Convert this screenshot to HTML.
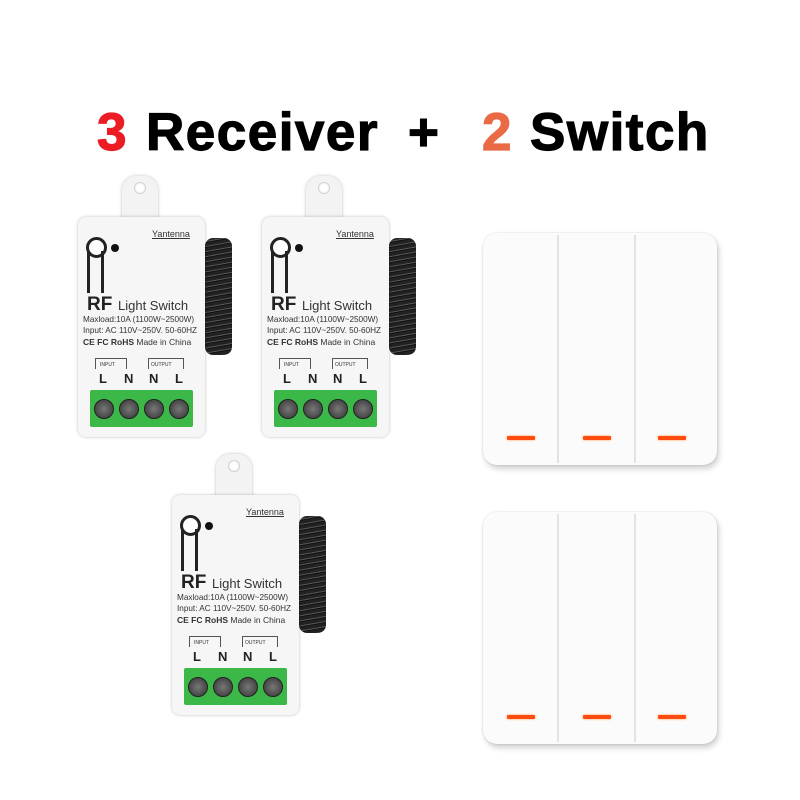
<!DOCTYPE html>
<html><head><meta charset="utf-8"><style>
body{margin:0;width:800px;height:800px;background:#fff;position:relative;overflow:hidden;font-family:"Liberation Sans",sans-serif}
.t{position:absolute;top:103px;font-weight:bold;font-size:53px;line-height:60px;white-space:nowrap;-webkit-text-stroke:1.2px currentColor;letter-spacing:1.5px}
.r{position:absolute;width:127px;height:220px}
.r>div{position:absolute}
.body{left:0;top:0;width:127px;height:220px;background:#f6f6f6;border-radius:8px;box-shadow:0 0 3px rgba(0,0,0,.25)}
.tab{left:44px;top:-41px;width:36px;height:50px;background:#f3f3f3;border-radius:14px 14px 2px 2px;box-shadow:0 0 3px rgba(0,0,0,.25)}
.hole{left:56px;top:-35px;width:12px;height:12px;border-radius:50%;background:#fff;box-shadow:inset 0 0 2px #888}
.coil{left:127px;top:21px;width:27px;height:117px;border-radius:8px;background:repeating-linear-gradient(170deg,#222 0 3px,#555 3px 4px,#111 4px 5px)}
.green{left:12px;top:173px;width:103px;height:37px;background:#3cb848;border-radius:2px}
.screw{width:18px;height:18px;border-radius:50%;background:radial-gradient(#777,#333);top:182px;border:1px solid #222}
.txt{white-space:nowrap;color:#333}
.sw{position:absolute;left:483px;width:234px;height:232px;background:#fbfbfb;border-radius:14px;box-shadow:2px 4px 6px rgba(0,0,0,.18),0 0 2px rgba(0,0,0,.15)}
.sw .d{position:absolute;top:2px;bottom:2px;width:2px;background:#e3e3e3}
.sw .l{position:absolute;top:203px;width:28px;height:4px;background:#ff4a10;border-radius:1px;box-shadow:0 0 2px #ff9a40}
</style></head><body>
<div class="t" style="left:97px;color:#ec1c24">3</div>
<div class="t" style="left:146px">Receiver</div>
<div class="t" style="left:408px">+</div>
<div class="t" style="left:482px;color:#ea6a45">2</div>
<div class="t" style="left:530px">Switch</div>

<script>
const h=`<div class="coil"></div><div class="tab"></div><div class="body"></div><div class="hole"></div>
<div style="left:8px;top:20px;width:15px;height:15px;border-radius:50%;border:3px solid #222;background:#fff"></div>
<div style="left:9px;top:34px;width:2.5px;height:42px;background:#222"></div><div style="left:23px;top:34px;width:2.5px;height:42px;background:#222"></div>
<div style="left:33px;top:27px;width:8px;height:8px;border-radius:50%;background:#111"></div>
<div class="txt" style="left:74px;top:12px;font-size:9px;text-decoration:underline">Yantenna</div>
<div class="txt" style="left:9px;top:77px;font-size:19px;font-weight:bold;color:#222">RF</div>
<div class="txt" style="left:40px;top:81px;font-size:13px">Light Switch</div>
<div class="txt" style="left:5px;top:98px;font-size:8.2px">Maxload:10A (1100W~2500W)</div>
<div class="txt" style="left:5px;top:109px;font-size:8.2px">Input: AC 110V~250V. 50-60HZ</div>
<div class="txt" style="left:5px;top:120px;font-size:8.5px"><b>CE FC RoHS</b> Made in China</div>
<div style="left:17px;top:141px;width:30px;height:10px;border:1px solid #555;border-bottom:none"></div>
<div style="left:70px;top:141px;width:34px;height:10px;border:1px solid #555;border-bottom:none"></div>
<div class="txt" style="left:22px;top:145px;font-size:5px;background:#f6f6f6">INPUT</div>
<div class="txt" style="left:73px;top:145px;font-size:5px;background:#f6f6f6">OUTPUT</div>
<div class="txt" style="left:21px;top:154px;font-size:13px;font-weight:bold;color:#222">L</div>
<div class="txt" style="left:46px;top:154px;font-size:13px;font-weight:bold;color:#222">N</div>
<div class="txt" style="left:71px;top:154px;font-size:13px;font-weight:bold;color:#222">N</div>
<div class="txt" style="left:97px;top:154px;font-size:13px;font-weight:bold;color:#222">L</div>
<div class="green"></div>
<div class="screw" style="left:16px"></div><div class="screw" style="left:41px"></div><div class="screw" style="left:66px"></div><div class="screw" style="left:91px"></div>`;
for(const [x,y] of [[78,217],[262,217],[172,495]]){const d=document.createElement('div');d.className='r';d.style.left=x+'px';d.style.top=y+'px';d.innerHTML=h;document.body.appendChild(d);}
</script>
<div class="sw" style="top:233px"><div class="d" style="left:74px"></div><div class="d" style="left:151px"></div><div class="l" style="left:24px"></div><div class="l" style="left:100px"></div><div class="l" style="left:175px"></div></div>
<div class="sw" style="top:512px"><div class="d" style="left:74px"></div><div class="d" style="left:151px"></div><div class="l" style="left:24px"></div><div class="l" style="left:100px"></div><div class="l" style="left:175px"></div></div>
</body></html>
